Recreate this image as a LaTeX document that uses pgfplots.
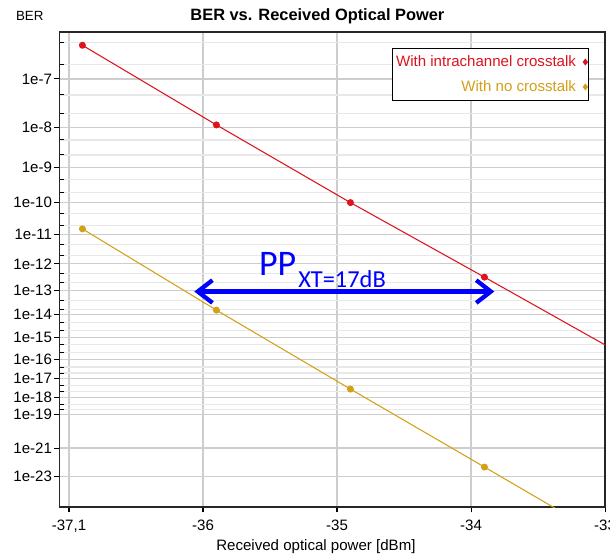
\documentclass[border=0pt]{standalone}
\usepackage{pgfplots}
\pgfplotsset{compat=1.18}
\usepackage{fontspec}
\setmainfont{Liberation Sans}
\newfontfamily\calfont{Carlito}
\usetikzlibrary{arrows.meta}
\definecolor{myred}{RGB}{220,20,30}
\definecolor{mygold}{RGB}{212,160,23}
\definecolor{majgrid}{RGB}{205,205,205}
\definecolor{mingrid}{RGB}{232,232,232}
\begin{document}
\begin{tikzpicture}
\begin{axis}[
  name=ax,
  scale only axis,
  width=409.5pt, height=356.25pt,
  xmin=-37.072, xmax=-33.0,
  ymin=-507.3, ymax=-32.3,
  xtick={-37,-36,-35,-34,-33},
  xticklabels={{-37,1},-36,-35,-34,-33},
  ytick={-79,-127.7,-167.3,-202.3,-234.3,-264,-290.7,-315,-337.3,-360,-379,-397.7,-415,-448.3,-476.7},
  yticklabels={1e-7,1e-8,1e-9,1e-10,1e-11,1e-12,1e-13,1e-14,1e-15,1e-16,1e-17,1e-18,1e-19,1e-21,1e-23},
  minor ytick={-42.3,-64.3,-95,-113.3,-140,-155,-180,-192.7,-213.3,-226,-244.3,-256,-273.3,-282.7,-300.7,-309.3,-322.7,-330.7,-345,-352.7,-367.3,-373.3,-386,-391.7,-405,-410},
  grid=both,
  major grid style={majgrid, line width=0.9pt},
  minor grid style={mingrid, line width=0.9pt},
  tick pos=left,
  tick align=outside,
  major tick length=4pt,
  minor tick length=3pt,
  tick style={black, line width=0.8pt},
  minor tick style={xshift=3.6pt},
  axis line style={black!85, line width=1.2pt},
  ticklabel style={font=\fontsize{11.3}{13}\selectfont},
  xticklabel style={yshift=-2pt},
  yticklabel style={xshift=2pt},
  /pgf/number format/assume math mode=true,
  legend plot pos=right,
  legend cell align=right,
  legend style={at={(0.971,0.966)}, anchor=north east, draw=black, line width=0.8pt,
    font=\fontsize{11.3}{13}\selectfont, inner xsep=1pt, inner ysep=3pt, row sep=5pt,
    /tikz/every odd column/.append style={column sep=3.5pt}},
  legend image code/.code={\draw[mark=diamond*, mark size=2pt] plot coordinates {(0pt,0pt)};},
]
\addplot[myred, line width=0.8pt, mark=*, mark size=2.2pt] coordinates {
(-36.9,-45.3) (-35.9,-125) (-34.9,-202.7) (-33.9,-277.3) (-32.9,-352.6)};
\addlegendentry{\textcolor{myred}{With intrachannel crosstalk}}
\addplot[mygold, line width=0.8pt, mark=*, mark size=2.2pt] coordinates {
(-36.9,-229) (-35.9,-310.3) (-34.9,-389.3) (-33.9,-467.3) (-32.9,-545.5)};
\addlegendentry{\textcolor{mygold}{With no crosstalk}}
\draw[blue, line width=3.2pt, {Straight Barb[length=11pt,width=17pt]}-{Straight Barb[length=11pt,width=17pt]}] (axis cs:-36.065,-291.7) -- (axis cs:-33.826,-291.7);
\node[anchor=base west, text=blue, font=\calfont\fontsize{27}{30}\selectfont, inner sep=0pt] at (axis cs:-35.584,-276) {PP};
\node[anchor=base west, text=blue, font=\calfont\fontsize{18.3}{20}\selectfont, inner sep=0pt] at (axis cs:-35.291,-287.3) {XT=17dB};
\coordinate (bbsw) at (axis cs:-37.515,-558);
\coordinate (bbne) at (axis cs:-32.963,0);
\end{axis}
\node[anchor=base, font=\bfseries\fontsize{12.3}{14}\selectfont] at ([shift={(-11.1pt,9.2pt)}]ax.north) {BER vs. Received Optical Power};
\node[anchor=base west, inner sep=0pt, font=\fontsize{10}{12}\selectfont] at ([shift={(-32.7pt,9.2pt)}]ax.north west) {BER};
\node[anchor=base, font=\fontsize{11.3}{13}\selectfont] at ([shift={(-12.2pt,-32.8pt)}]ax.south) {Received optical power [dBm]};
\pgfresetboundingbox
\path[use as bounding box] (bbsw) rectangle (bbne);
\end{tikzpicture}
\end{document}
